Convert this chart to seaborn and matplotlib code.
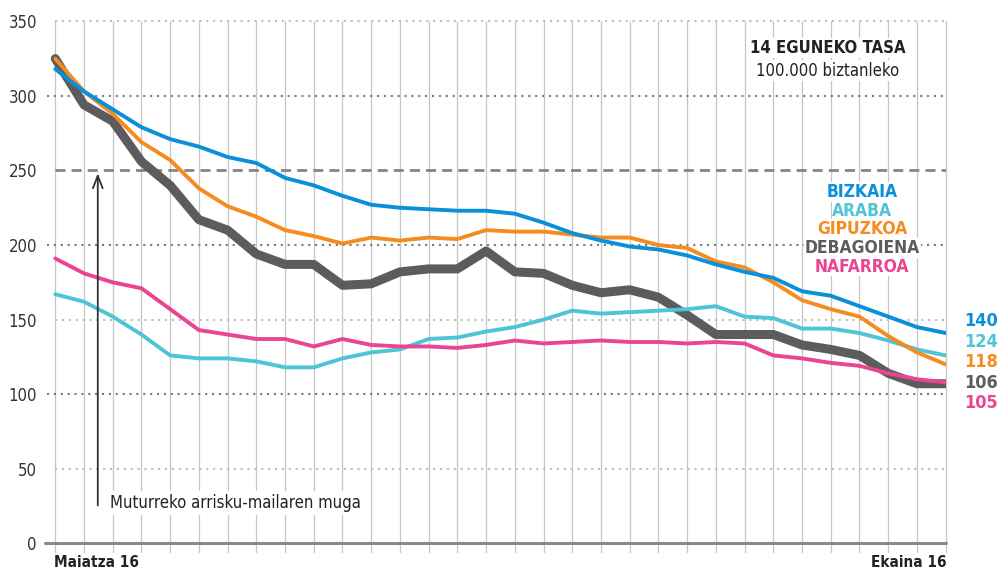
import numpy as np
import pandas as pd
import matplotlib
matplotlib.use("Agg")
import matplotlib.pyplot as plt
import seaborn as sns

# egunak: maiatzaren 16tik ekainaren 16ra
days = list(range(32))

bizkaia = [318, 303, 291, 279, 271, 266, 259, 255, 245, 240, 233, 227, 225, 224, 223, 223,
           221, 215, 208, 203, 199, 197, 193, 187, 182, 178, 169, 166, 159, 152, 145, 141]
araba = [167, 162, 152, 140, 126, 124, 124, 122, 118, 118, 124, 128, 130, 137, 138, 142,
         145, 150, 156, 154, 155, 156, 157, 159, 152, 151, 144, 144, 141, 136, 130, 126]
gipuzkoa = [325, 303, 288, 269, 257, 238, 226, 219, 210, 206, 201, 205, 203, 205, 204, 210,
            209, 209, 207, 205, 205, 200, 198, 189, 185, 175, 163, 157, 152, 139, 128, 120]
debagoiena = [325, 294, 283, 256, 240, 217, 210, 194, 187, 187, 173, 174, 182, 184, 184, 196,
              182, 181, 173, 168, 170, 165, 153, 140, 140, 140, 133, 130, 126, 114, 107, 107]
nafarroa = [191, 181, 175, 171, 157, 143, 140, 137, 137, 132, 137, 133, 132, 132, 131, 133,
            136, 134, 135, 136, 135, 135, 134, 135, 134, 126, 124, 121, 119, 114, 110, 108]

names = ["BIZKAIA", "ARABA", "GIPUZKOA", "DEBAGOIENA", "NAFARROA"]
last_labels = ["140", "124", "118", "106", "105"]
colors = {"BIZKAIA": "#0a90d8", "ARABA": "#4fc4d6", "GIPUZKOA": "#f58c1f",
          "DEBAGOIENA": "#5c5c5e", "NAFARROA": "#ea4591"}

df = pd.DataFrame({"eguna": days, "BIZKAIA": bizkaia, "ARABA": araba, "GIPUZKOA": gipuzkoa,
                   "DEBAGOIENA": debagoiena, "NAFARROA": nafarroa})
long_df = df.melt(id_vars="eguna", var_name="lurraldea", value_name="tasa")

sns.set_style("white")
plt.rcParams['font.family'] = ['DejaVu Sans']
plt.rcParams['font.stretch'] = 'condensed'

fig = plt.figure(figsize=(9.97, 5.70), dpi=100)
ax = fig.add_axes([0.0468, 0.0468, 0.9017, 0.9158])

# bertikalak
for d in days:
    ax.plot([d, d], [-5.8, 350], color="#c6c6c6", lw=0.9, zorder=0, clip_on=False)

# horizontalak
for yv in [100, 200, 300]:
    ax.plot([-0.3, 31], [yv, yv], color="#7a7a7a", lw=1.5, ls=(0, (1, 2.3)), zorder=1)
for yv in [50, 150, 350]:
    ax.plot([0, 31], [yv, yv], color="#bdbdbd", lw=1.5, ls=(0, (1, 2.3)), zorder=1, clip_on=False)
ax.plot([0, 31], [250, 250], color="#858585", lw=2, ls=(0, (3.6, 2.2)), zorder=1)
ax.plot([-0.35, 31], [0, 0], color="#8a8a8a", lw=2.2, zorder=2, clip_on=False)

# lerroak
sns.lineplot(data=long_df[long_df.lurraldea == "DEBAGOIENA"], x="eguna", y="tasa",
             color=colors["DEBAGOIENA"], lw=6.5, ax=ax, zorder=3, legend=False)
for n in ["ARABA", "NAFARROA", "GIPUZKOA", "BIZKAIA"]:
    sns.lineplot(data=long_df[long_df.lurraldea == n], x="eguna", y="tasa",
                 color=colors[n], lw=2.8, ax=ax, zorder=4, legend=False)
for line in ax.lines[-5:]:
    line.set_solid_capstyle("round")

ax.set_xlim(-0.3, 31)
ax.set_ylim(0, 350)
ax.set_xticks([])
ax.set_yticks(range(0, 351, 50))
ax.set_yticklabels([str(v) for v in range(0, 351, 50)], fontsize=12, color="#333333")
ax.tick_params(axis="y", length=0, pad=7)
for s in ax.spines.values():
    s.set_visible(False)
ax.set_xlabel("")
ax.set_ylabel("")

# muga
ax.annotate("", xy=(1.48, 250), xytext=(1.48, 23.5),
            arrowprops=dict(arrowstyle="->,head_width=0.35,head_length=0.9", color="#333333", lw=1.3),
            zorder=5)
ax.text(1.92, 27, "Muturreko arrisku-mailaren muga", fontsize=12, color="#222222",
        va="center", ha="left", zorder=5,
        bbox=dict(facecolor="white", edgecolor="none", pad=2))

# izenburua
ax.text(26.9, 332, "14 EGUNEKO TASA", fontsize=12, fontweight="bold", color="#222222",
        ha="center", va="center", zorder=5,
        bbox=dict(facecolor="white", edgecolor="none", pad=1))
ax.text(26.9, 317, "100.000 biztanleko", fontsize=12, color="#222222",
        ha="center", va="center", zorder=5,
        bbox=dict(facecolor="white", edgecolor="none", pad=1))

# legenda
legend_y = [235.5, 223, 210.7, 198, 185.6]
for n, yv in zip(names, legend_y):
    ax.text(28.1, yv, n, fontsize=12.5, fontweight="bold", color=colors[n],
            ha="center", va="center", zorder=5,
            bbox=dict(facecolor="white", edgecolor="none", pad=0.5))

# azken balioak
label_y = [149.3, 135.2, 121.8, 107.7, 94.3]
for n, lab, yv in zip(names, last_labels, label_y):
    ax.text(31.65, yv, lab, fontsize=13, fontweight="bold", color=colors[n],
            ha="left", va="center", clip_on=False)

ax.text(-0.05, -13, "Maiatza 16", fontsize=11, fontweight="bold", color="#222222",
        ha="left", va="center", clip_on=False)
ax.text(31.02, -13, "Ekaina 16", fontsize=11, fontweight="bold", color="#222222",
        ha="right", va="center", clip_on=False)

fig.savefig("out.png", dpi=100)
